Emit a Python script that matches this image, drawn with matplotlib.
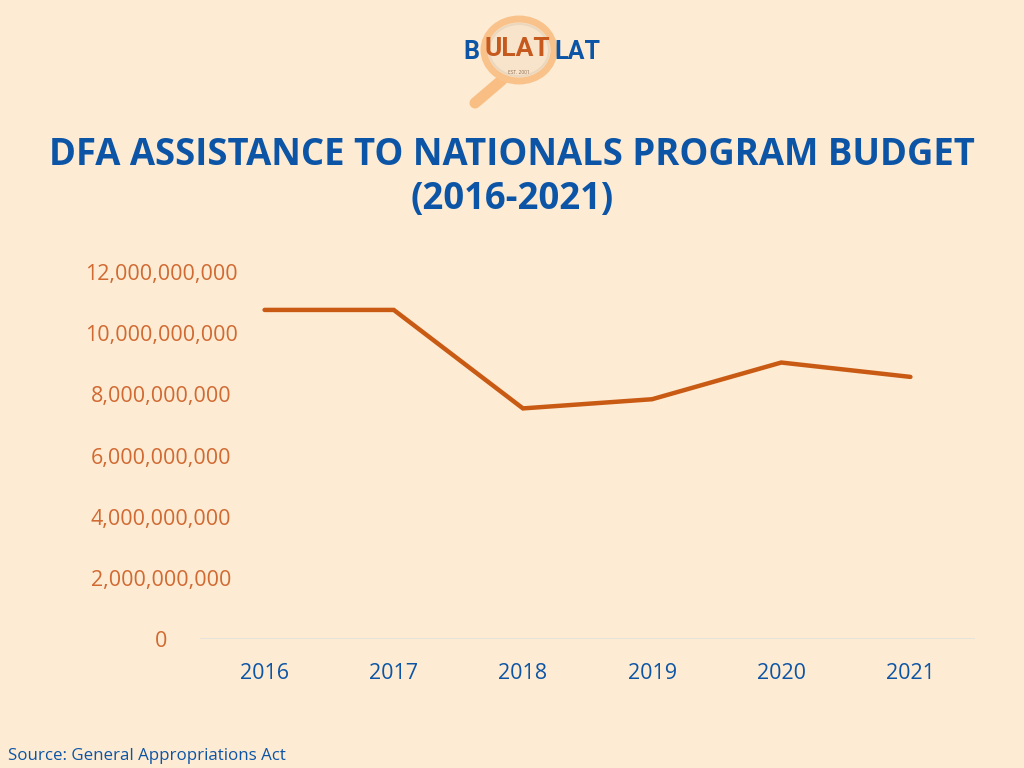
import matplotlib
matplotlib.use("Agg")
import matplotlib.pyplot as plt
from matplotlib.patches import Ellipse
from matplotlib.lines import Line2D

years = ["2016", "2017", "2018", "2019", "2020", "2021"]
budget = [10.76e9, 10.76e9, 7.54e9, 7.84e9, 9.04e9, 8.57e9]
ytick_values = [0, 2e9, 4e9, 6e9, 8e9, 10e9, 12e9]
ytick_labels = ["0", "2,000,000,000", "4,000,000,000", "6,000,000,000",
                "8,000,000,000", "10,000,000,000", "12,000,000,000"]

title_text = "DFA ASSISTANCE TO NATIONALS PROGRAM BUDGET\n(2016-2021)"
source_text = "Source: General Appropriations Act"

BG = "#FEEBD3"
BLUE = "#0C55A6"
LINE = "#C85A14"
YLAB = "#D06A32"

plt.rcParams['font.family'] = ['Open Sans', 'DejaVu Sans']

W, H = 1024, 768
fig = plt.figure(figsize=(W / 100, H / 100), dpi=100, facecolor=BG)

def fx(px):
    return px / W

def fy(py):
    return 1 - py / H

ax = fig.add_axes([fx(200), fy(639), fx(975) - fx(200), fy(272) - fy(639)])
ax.set_facecolor(BG)
x = list(range(len(years)))
ax.plot(x, budget, color=LINE, lw=3.2, solid_joinstyle='miter', solid_capstyle='round', zorder=3)
ax.set_xlim(-0.5, 5.5)
ax.set_ylim(0, 12e9)
for s in ax.spines.values():
    s.set_visible(False)
ax.axhline(0, color="#E6E2DC", lw=1.5, zorder=1)
ax.set_xticks(x)
ax.set_xticklabels(years, color=BLUE, fontsize=15.5)
ax.set_yticks(ytick_values)
ax.set_yticklabels(ytick_labels, color=YLAB, fontsize=15.5)
ax.tick_params(axis='both', length=0)
ax.tick_params(axis='x', pad=17)
ax.tick_params(axis='y', pad=28)
for lab in ax.get_yticklabels():
    lab.set_horizontalalignment('center')

fig.text(0.5, fy(177), title_text, ha='center', va='center', fontsize=26.3,
         fontweight='bold', color=BLUE, linespacing=1.2)
fig.text(fx(8), fy(756), source_text, ha='left', va='center', fontsize=12.2, color=BLUE)

# Logo
handle = Line2D([fx(502), fx(475)], [fy(80), fy(103)], transform=fig.transFigure,
                color="#F9BE84", lw=8, solid_capstyle='round', zorder=1)
fig.add_artist(handle)
outer = Ellipse((fx(519), fy(50)), 70 / W, 62 / H, transform=fig.transFigure,
                facecolor="#F8E3CB", edgecolor="#F9C28A", lw=5, zorder=2)
fig.add_artist(outer)
inner = Ellipse((fx(519), fy(50)), 60 / W, 52 / H, transform=fig.transFigure,
                facecolor="none", edgecolor="#EBD6BE", lw=1.5, zorder=2)
fig.add_artist(inner)
logo_font = ['Roboto', 'DejaVu Sans']
fig.text(fx(471), fy(52), "B", ha='center', va='center', fontsize=18, fontweight='bold',
         color=BLUE, family=logo_font, zorder=3)
fig.text(fx(517), fy(49), "ULAT", ha='center', va='center', fontsize=19, fontweight='bold',
         color="#C65A1E", family=logo_font, zorder=3)
fig.text(fx(577), fy(52), "LAT", ha='center', va='center', fontsize=18, fontweight='bold',
         color=BLUE, family=logo_font, zorder=3)
fig.text(fx(519), fy(72), "EST. 2001", ha='center', va='center', fontsize=3.5,
         color="#8A6A50", zorder=3)

fig.savefig("out.png", dpi=100, facecolor=BG)
